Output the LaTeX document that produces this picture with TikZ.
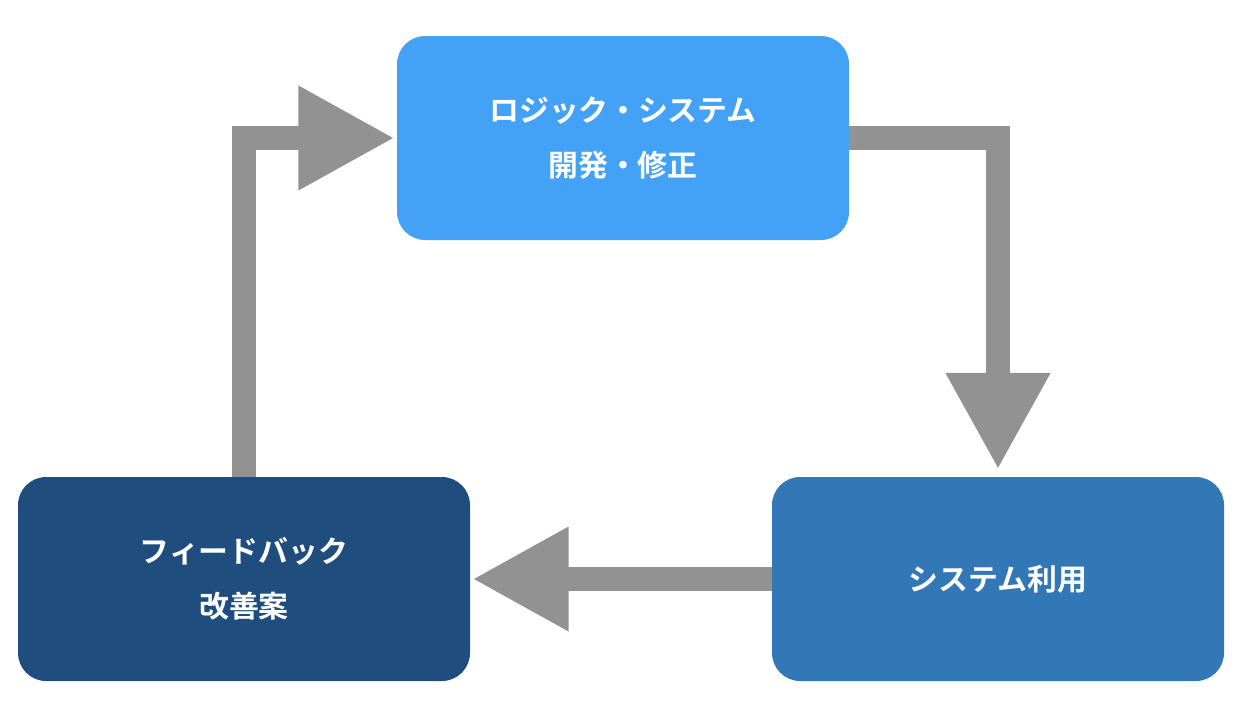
\documentclass[tikz,border=0pt]{standalone}
\usepackage{fontspec}
\setmainfont{Noto Sans CJK JP}[BoldFont={Noto Sans CJK JP Bold}]
\usetikzlibrary{arrows.meta, positioning}
\definecolor{boxA}{HTML}{44A2F6}
\definecolor{boxB}{HTML}{3277B6}
\definecolor{boxC}{HTML}{1F4E7E}
\definecolor{flow}{HTML}{929292}
\tikzset{
	stage/.style={rectangle, rounded corners=16pt, minimum width=452*0.02cm, minimum height=204*0.02cm, text centered, text=white, font=\fontsize{17}{31}\selectfont\bfseries, align=center, inner sep=0pt},
	FARROW/.style={draw=flow, line width=13.6pt, arrows={-Triangle[length=55pt, width=55.6pt]}}
}
\begin{document}
\begin{tikzpicture}[x=0.02cm, y=-0.02cm]
	\useasboundingbox (0,0) rectangle (1250,720);
	\node (dev) [stage, fill=boxA] at (623,138) {ロジック・システム\\開発・修正};
	\node (use) [stage, fill=boxB] at (998,579) {システム利用};
	\node (fb) [stage, fill=boxC] at (244,579) {フィードバック\\改善案};
	\draw [FARROW, shorten >=4pt] (dev.east) -| (use.north);
	\draw [FARROW, shorten >=1pt] (use.west) -- (fb.east);
	\draw [FARROW, shorten >=1pt] (fb.north) |- (dev.west);
\end{tikzpicture}
\end{document}
